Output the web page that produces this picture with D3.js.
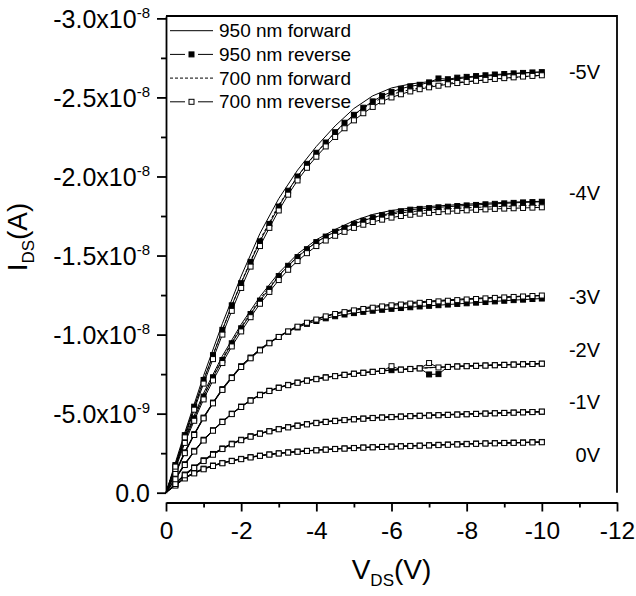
<!DOCTYPE html>
<head>
  <meta charset="utf-8">
  <title>IDS-VDS output curves</title>
  <style>
    body { margin: 0; background: white; }
    text { font-family: "Liberation Sans", Arial, sans-serif; fill: black; }
  </style>
</head>

<script src="https://d3js.org/d3.v7.min.js"></script>

<div id="my_dataviz"></div>

<script>
  // drain voltage steps (V): reverse sweeps every 0.25 V, forward lines every 0.5 V
  const vdsRev = [0, -0.25, -0.5, -0.75, -1, -1.25, -1.5, -1.75, -2, -2.25, -2.5, -2.75, -3, -3.25, -3.5, -3.75,
    -4, -4.25, -4.5, -4.75, -5, -5.25, -5.5, -5.75, -6, -6.25, -6.5, -6.75, -7, -7.25, -7.5, -7.75,
    -8, -8.25, -8.5, -8.75, -9, -9.25, -9.5, -9.75, -10];
  const vdsFwd = [0, -0.5, -1, -1.5, -2, -2.5, -3, -3.5, -4, -4.5, -5, -5.5, -6, -6.5, -7, -7.5, -8, -8.5, -9, -9.5, -10];

  // drain current in nA (x1e-9 A), one array per gate voltage and sweep
  const fwd950_0V = [0, -0.97, -1.54, -1.90, -2.16, -2.36, -2.50, -2.61, -2.70, -2.78, -2.84, -2.89, -2.93, -2.97, -3.01, -3.05, -3.09, -3.12, -3.15, -3.18, -3.21];
  const fwd700_0V = [0, -0.92, -1.50, -1.88, -2.14, -2.34, -2.49, -2.60, -2.69, -2.77, -2.83, -2.88, -2.92, -2.96, -3.00, -3.04, -3.08, -3.11, -3.14, -3.17, -3.19];
  const rev950_0V = [0, -0.50, -0.95, -1.27, -1.52, -1.72, -1.88, -2.02, -2.14, -2.25, -2.34, -2.42, -2.49, -2.55, -2.60, -2.65, -2.69, -2.73, -2.77, -2.80,
    -2.83, -2.86, -2.88, -2.90, -2.92, -2.94, -2.96, -2.98, -3.00, -3.03, -3.05, -3.07, -3.09, -3.11, -3.12, -3.14, -3.15, -3.17, -3.18, -3.20, -3.21];
  const rev700_0V = [0, -0.45, -0.90, -1.22, -1.48, -1.69, -1.86, -2.00, -2.12, -2.23, -2.33, -2.41, -2.48, -2.54, -2.59, -2.64, -2.68, -2.72, -2.76, -2.79,
    -2.82, -2.85, -2.87, -2.89, -2.91, -2.93, -2.95, -2.97, -2.99, -3.01, -3.03, -3.05, -3.07, -3.09, -3.11, -3.12, -3.14, -3.15, -3.16, -3.18, -3.19];

  const fwd950_1V = [0, -1.18, -2.08, -2.83, -3.38, -3.77, -4.05, -4.27, -4.44, -4.57, -4.67, -4.75, -4.81, -4.86, -4.91, -4.95, -4.99, -5.03, -5.07, -5.10, -5.13];
  const fwd700_1V = [0, -1.12, -2.02, -2.78, -3.34, -3.74, -4.03, -4.25, -4.42, -4.55, -4.65, -4.73, -4.80, -4.85, -4.90, -4.94, -4.98, -5.02, -5.06, -5.09, -5.12];
  const rev950_1V = [0, -0.60, -1.15, -1.60, -2.05, -2.45, -2.80, -3.10, -3.35, -3.57, -3.75, -3.90, -4.03, -4.15, -4.25, -4.34, -4.42, -4.49, -4.55, -4.60,
    -4.65, -4.69, -4.73, -4.76, -4.79, -4.82, -4.85, -4.87, -4.89, -4.91, -4.93, -4.95, -4.97, -4.99, -5.01, -5.03, -5.05, -5.07, -5.09, -5.10, -5.12];
  const rev700_1V = [0, -0.55, -1.10, -1.56, -2.00, -2.40, -2.76, -3.06, -3.32, -3.54, -3.73, -3.88, -4.01, -4.13, -4.23, -4.32, -4.40, -4.47, -4.53, -4.59,
    -4.64, -4.68, -4.72, -4.75, -4.78, -4.81, -4.84, -4.86, -4.88, -4.90, -4.92, -4.94, -4.96, -4.98, -5.00, -5.02, -5.04, -5.06, -5.08, -5.10, -5.13];

  const fwd950_2V = [0, -1.85, -3.38, -4.52, -5.47, -6.22, -6.67, -6.98, -7.21, -7.39, -7.54, -7.66, -7.76, -7.84, -7.91, -7.97, -8.02, -8.06, -8.10, -8.14, -8.17];
  const fwd700_2V = [0, -1.80, -3.33, -4.48, -5.43, -6.19, -6.65, -6.97, -7.20, -7.38, -7.53, -7.65, -7.75, -7.83, -7.90, -7.96, -8.01, -8.05, -8.09, -8.13, -8.16];
  const rev950_2V = [0, -0.90, -1.80, -2.65, -3.35, -3.95, -4.50, -5.00, -5.45, -5.85, -6.20, -6.45, -6.65, -6.82, -6.97, -7.10, -7.20, -7.30, -7.38, -7.46,
    -7.53, -7.59, -7.65, -7.70, -7.75, -7.79, -7.83, -7.87, -7.48, -7.50, -7.96, -7.99, -8.01, -8.03, -8.05, -8.07, -8.09, -8.11, -8.13, -8.14, -8.16];
  const rev700_2V = [0, -0.85, -1.75, -2.60, -3.30, -3.92, -4.47, -4.97, -5.42, -5.82, -6.17, -6.43, -6.63, -6.80, -6.95, -7.08, -7.18, -7.28, -7.37, -7.45,
    -7.52, -7.58, -7.64, -7.70, -8.00, -7.78, -7.82, -7.86, -8.20, -7.92, -7.95, -7.98, -8.00, -8.02, -8.04, -8.06, -8.08, -8.10, -8.12, -8.14, -8.16];

  const fwd950_3V = [0, -2.60, -4.80, -6.60, -8.05, -9.10, -9.90, -10.55, -11.00, -11.35, -11.60, -11.78, -11.92, -12.03, -12.12, -12.20, -12.27, -12.33, -12.38, -12.43, -12.47];
  const fwd700_3V = [0, -2.55, -4.75, -6.55, -8.00, -9.05, -9.88, -10.52, -10.98, -11.32, -11.56, -11.74, -11.88, -12.00, -12.09, -12.17, -12.24, -12.31, -12.37, -12.43, -12.48];
  const rev950_3V = [0, -1.25, -2.55, -3.70, -4.75, -5.70, -6.55, -7.30, -8.00, -8.55, -9.05, -9.48, -9.85, -10.18, -10.45, -10.68, -10.86, -11.03, -11.16, -11.27,
    -11.36, -11.44, -11.51, -11.57, -11.63, -11.68, -11.73, -11.78, -11.82, -11.86, -11.90, -11.94, -11.98, -12.02, -12.06, -12.10, -12.14, -12.18, -12.21, -12.25, -12.28];
  const rev700_3V = [0, -1.20, -2.50, -3.65, -4.70, -5.65, -6.50, -7.25, -7.95, -8.50, -9.00, -9.45, -9.85, -10.20, -10.50, -10.75, -10.95, -11.15, -11.30, -11.42,
    -11.53, -11.62, -11.70, -11.78, -11.85, -11.90, -11.96, -12.01, -12.06, -12.10, -12.14, -12.18, -12.22, -12.25, -12.29, -12.32, -12.35, -12.38, -12.41, -12.44, -12.47];

  const fwd950_4V = [0, -3.45, -6.30, -8.65, -10.65, -12.40, -13.90, -15.10, -16.00, -16.65, -17.20, -17.60, -17.85, -18.00, -18.10, -18.18, -18.25, -18.31, -18.36, -18.40, -18.43];
  const fwd700_4V = [0, -3.35, -6.15, -8.50, -10.50, -12.25, -13.75, -14.95, -15.85, -16.55, -17.05, -17.40, -17.62, -17.77, -17.88, -17.96, -18.02, -18.07, -18.11, -18.14, -18.17];
  const rev950_4V = [0, -1.60, -3.30, -4.70, -6.08, -7.30, -8.39, -9.45, -10.40, -11.30, -12.15, -12.90, -13.70, -14.35, -14.90, -15.40, -15.85, -16.20, -16.50, -16.75,
    -17.00, -17.20, -17.40, -17.55, -17.70, -17.80, -17.90, -17.95, -18.00, -18.05, -18.09, -18.13, -18.17, -18.20, -18.24, -18.27, -18.30, -18.33, -18.36, -18.38, -18.40];
  const rev700_4V = [0, -1.50, -3.15, -4.55, -5.90, -7.10, -8.20, -9.25, -10.20, -11.10, -11.95, -12.70, -13.45, -14.10, -14.65, -15.15, -15.60, -15.95, -16.25, -16.50,
    -16.75, -16.95, -17.12, -17.27, -17.40, -17.50, -17.58, -17.65, -17.70, -17.75, -17.79, -17.83, -17.86, -17.89, -17.92, -17.95, -17.97, -17.99, -18.01, -18.03, -18.05];

  const fwd950_5V = [0, -3.80, -7.40, -10.70, -13.70, -16.40, -18.60, -20.40, -21.90, -23.20, -24.30, -25.10, -25.60, -25.85, -26.00, -26.10, -26.25, -26.35, -26.45, -26.55, -26.62];
  const fwd700_5V = [0, -3.60, -7.10, -10.30, -13.30, -16.00, -18.20, -20.00, -21.50, -22.80, -23.90, -24.70, -25.20, -25.50, -25.70, -25.90, -26.00, -26.10, -26.20, -26.30, -26.40];
  const rev950_5V = [0, -1.75, -3.64, -5.44, -7.13, -8.70, -10.30, -11.85, -13.25, -14.60, -15.90, -17.00, -18.10, -19.10, -20.00, -20.80, -21.50, -22.15, -22.80, -23.40,
    -23.90, -24.35, -24.75, -25.10, -25.35, -25.55, -25.70, -25.80, -25.95, -26.20, -26.15, -26.25, -26.30, -26.35, -26.40, -26.45, -26.48, -26.52, -26.55, -26.58, -26.60];
  const rev700_5V = [0, -1.65, -3.50, -5.25, -6.90, -8.45, -10.00, -11.50, -12.95, -14.30, -15.60, -16.75, -17.85, -18.85, -19.75, -20.55, -21.25, -21.90, -22.50, -23.05,
    -23.55, -24.00, -24.40, -24.75, -25.00, -25.20, -25.38, -25.52, -25.64, -25.74, -25.83, -25.91, -25.98, -26.05, -26.11, -26.17, -26.22, -26.27, -26.32, -26.36, -26.40];

  // gate labels at the right end of each curve
  const gateLabels = ["0V", "-1V", "-2V", "-3V", "-4V", "-5V"];
  const gateLabelI = [-2.39, -5.74, -9.0, -12.36, -18.96, -26.6];

  // axis ticks
  const xTicks = [0, -2, -4, -6, -8, -10, -12];
  const xTickLabels = ["0", "-2", "-4", "-6", "-8", "-10", "-12"];
  const xMinorTicks = [-1, -3, -5, -7, -9, -11];
  const yTicks = [0, -5, -10, -15, -20, -25, -30];
  const yMinorTicks = [-2.5, -7.5, -12.5, -17.5, -22.5, -27.5];
  const yTickMant = ["0.0", "-5.0x10", "-1.0x10", "-1.5x10", "-2.0x10", "-2.5x10", "-3.0x10"];
  const yTickExp = ["", "-9", "-8", "-8", "-8", "-8", "-8"];

  const legendLabels = ["950 nm forward", "950 nm reverse", "700 nm forward", "700 nm reverse"];

  // group sweeps per series (same order as legend)
  const fwd950 = [fwd950_0V, fwd950_1V, fwd950_2V, fwd950_3V, fwd950_4V, fwd950_5V];
  const rev950 = [rev950_0V, rev950_1V, rev950_2V, rev950_3V, rev950_4V, rev950_5V];
  const fwd700 = [fwd700_0V, fwd700_1V, fwd700_2V, fwd700_3V, fwd700_4V, fwd700_5V];
  const rev700 = [rev700_0V, rev700_1V, rev700_2V, rev700_3V, rev700_4V, rev700_5V];

  const margin = {top: 16, right: 19, bottom: 103.3, left: 166},
      width = 636 - margin.left - margin.right,
      height = 596 - margin.top - margin.bottom;

  const svg = d3.select("#my_dataviz")
    .append("svg")
      .attr("width", 636)
      .attr("height", 596)
    .append("g")
      .attr("transform", `translate(${margin.left},${margin.top})`);

  const x = d3.scaleLinear().domain([0, -12]).range([0, width]);
  const y = d3.scaleLinear().domain([0, -30.15]).range([height, 0]);

  // frame: top and right sides
  svg.append("path")
    .attr("d", `M0,0H${width}V${height}`)
    .attr("fill", "none")
    .attr("stroke", "black")
    .attr("stroke-width", 1.8);

  // Y axis, minor then major
  svg.append("g")
    .call(d3.axisLeft(y).tickValues(yMinorTicks).tickSize(5).tickFormat(""))
    .call(g => g.select(".domain").remove())
    .call(g => g.selectAll("line").attr("stroke-width", 1.8));
  const yAxis = svg.append("g")
    .call(d3.axisLeft(y).tickValues(yTicks).tickSize(9).tickSizeOuter(0).tickPadding(7))
    .call(g => g.select(".domain").attr("stroke-width", 1.8))
    .call(g => g.selectAll("line").attr("stroke-width", 1.8));
  yAxis.selectAll(".tick text").each(function(d, i) {
    const t = d3.select(this).text(null)
      .attr("font-size", 25)
      .attr("font-family", null)
      .attr("dy", "0.36em");
    t.append("tspan").text(yTickMant[i]);
    if (yTickExp[i]) t.append("tspan").attr("font-size", 15).attr("dy", -10).text(yTickExp[i]);
  });

  // X axis, offset below the plot
  const xg = svg.append("g").attr("transform", `translate(0, ${height + 9.8})`);
  xg.append("g")
    .call(d3.axisBottom(x).tickValues(xMinorTicks).tickSize(5).tickFormat(""))
    .call(g => g.select(".domain").remove())
    .call(g => g.selectAll("line").attr("stroke-width", 1.8));
  xg.append("g")
    .call(d3.axisBottom(x).tickValues(xTicks).tickSize(9).tickSizeOuter(0).tickPadding(10)
      .tickFormat((d, i) => xTickLabels[i]))
    .call(g => g.select(".domain").attr("stroke-width", 1.8))
    .call(g => g.selectAll("line").attr("stroke-width", 1.8))
    .call(g => g.selectAll("text").attr("font-size", 24.5).attr("font-family", null));

  // axis titles
  const xt = svg.append("text")
    .attr("x", width / 2)
    .attr("y", height + 86)
    .attr("text-anchor", "middle")
    .attr("font-size", 28);
  xt.append("tspan").text("V");
  xt.append("tspan").attr("font-size", 17).attr("dy", 7).text("DS");
  xt.append("tspan").attr("dy", -7).text("(V)");

  const yt = svg.append("text")
    .attr("transform", `translate(${-139}, ${221}) rotate(-90)`)
    .attr("text-anchor", "middle")
    .attr("font-size", 28);
  yt.append("tspan").text("I");
  yt.append("tspan").attr("font-size", 17).attr("dy", 7).text("DS");
  yt.append("tspan").attr("dy", -7).text("(A)");

  // curves
  const lineRev = d3.line().x((d, i) => x(vdsRev[i])).y(d => y(d));
  const lineFwd = d3.line().x((d, i) => x(vdsFwd[i])).y(d => y(d));

  const plot = svg.append("g");
  function drawSeries(curves, line, dash, marker) {
    const g = plot.append("g");
    g.selectAll("path")
      .data(curves)
      .join("path")
        .attr("d", line)
        .attr("fill", "none")
        .attr("stroke", "black")
        .attr("stroke-width", 1)
        .attr("stroke-dasharray", dash);
    if (marker) {
      g.selectAll("g")
        .data(curves)
        .join("g")
        .selectAll("rect")
        .data(d => d.map((v, i) => [vdsRev[i], v]).filter(p => p[0] !== 0))
        .join("rect")
          .attr("x", p => x(p[0]) - 2.5)
          .attr("y", p => y(p[1]) - 2.5)
          .attr("width", 5)
          .attr("height", 5)
          .attr("fill", marker)
          .attr("stroke", "black")
          .attr("stroke-width", 1);
    }
  }
  drawSeries(fwd950, lineFwd, null, null);
  drawSeries(rev950, lineRev, null, "black");
  drawSeries(fwd700, lineFwd, "3,2", null);
  drawSeries(rev700, lineRev, null, "white");

  // gate voltage labels
  svg.append("g")
    .selectAll("text")
    .data(gateLabels)
    .join("text")
      .attr("x", x(-11.55))
      .attr("y", (d, i) => y(gateLabelI[i]))
      .attr("dy", "0.35em")
      .attr("text-anchor", "end")
      .attr("font-size", 20)
      .text(d => d);

  // legend
  const leg = svg.append("g").attr("transform", "translate(4, 14.7)");
  legendLabels.forEach((lab, i) => {
    const row = leg.append("g").attr("transform", `translate(0, ${i * 23.7})`);
    if (i % 2 === 0) {
      row.append("line")
        .attr("x1", 0).attr("x2", 43)
        .attr("stroke", "black").attr("stroke-width", 1)
        .attr("stroke-dasharray", i === 2 ? "3,2" : null);
    } else {
      row.append("path")
        .attr("d", "M0,0H15M28,0H43")
        .attr("stroke", "black").attr("stroke-width", 1);
      row.append("rect")
        .attr("x", 19).attr("y", -2.5).attr("width", 5).attr("height", 5)
        .attr("fill", i === 1 ? "black" : "white")
        .attr("stroke", "black").attr("stroke-width", 1);
    }
    row.append("text")
      .attr("x", 49)
      .attr("dy", "0.35em")
      .attr("font-size", 19)
      .text(lab);
  });
</script>
